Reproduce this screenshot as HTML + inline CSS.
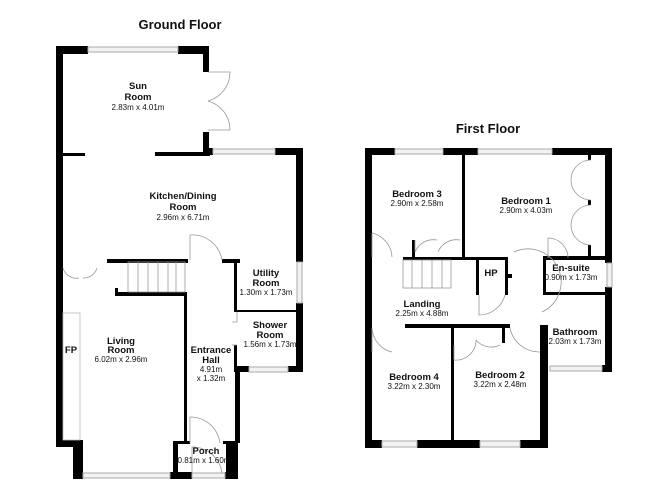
<!DOCTYPE html>
<html><head><style>
html,body{margin:0;padding:0;background:#fff;}
svg{display:block;font-family:"Liberation Sans",Arial,sans-serif;}
.n{font-size:9.5px;font-weight:bold;text-anchor:middle;fill:#111;}
.d{font-size:8px;text-anchor:middle;fill:#111;}
.t{font-size:13px;font-weight:bold;text-anchor:middle;fill:#111;}
.w{fill:#f2f2f2;stroke:#aaa;stroke-width:1;}
.a{fill:none;stroke:#999;stroke-width:0.8;}
</style></head><body>
<svg width="668" height="486" viewBox="0 0 668 486">
<text class="t" x="180" y="29">Ground Floor</text>
<text class="t" x="488" y="133">First Floor</text>
<g fill="#000">
<rect x="56" y="46" width="32" height="8"/>
<rect x="178" y="46" width="31" height="8"/>
<rect x="203" y="46" width="6" height="26"/>
<rect x="203" y="132" width="6" height="23"/>
<rect x="56" y="46" width="7" height="401"/>
<rect x="56" y="440" width="27" height="7"/>
<rect x="73" y="440" width="10" height="39"/>
<rect x="73" y="472" width="10" height="7"/>
<rect x="170" y="472" width="8" height="7"/>
<rect x="63" y="153" width="22" height="3"/>
<rect x="155" y="152" width="55" height="4"/>
<rect x="209" y="148" width="4" height="7"/>
<rect x="275" y="148" width="28" height="7"/>
<rect x="296" y="148" width="7" height="114"/>
<rect x="296" y="303" width="7" height="69"/>
<rect x="237" y="366" width="12" height="6"/>
<rect x="288" y="366" width="15" height="6"/>
<rect x="107" y="259" width="81" height="4"/>
<rect x="222" y="259" width="18" height="4"/>
<rect x="234" y="259" width="3" height="53"/>
<rect x="237" y="310" width="60" height="2"/>
<rect x="234" y="345" width="3" height="27"/>
<rect x="235" y="366" width="5" height="77"/>
<rect x="115" y="288" width="3" height="8"/>
<rect x="115" y="292" width="72" height="4"/>
<rect x="184" y="292" width="3" height="151"/>
<rect x="173" y="441" width="17" height="3"/>
<rect x="223" y="441" width="15" height="3"/>
<rect x="173" y="441" width="5" height="38"/>
<rect x="226" y="441" width="12" height="38"/>
<rect x="173" y="472" width="19" height="7"/>
<rect x="225" y="472" width="13" height="7"/>
<rect x="365" y="148" width="30" height="7"/>
<rect x="443" y="148" width="35" height="7"/>
<rect x="552" y="148" width="60" height="7"/>
<rect x="365" y="148" width="7" height="300"/>
<rect x="605" y="148" width="7" height="115"/>
<rect x="605" y="287" width="7" height="85"/>
<rect x="602" y="365" width="10" height="7"/>
<rect x="365" y="440" width="17" height="8"/>
<rect x="417" y="440" width="63" height="8"/>
<rect x="520" y="440" width="28" height="8"/>
<rect x="540" y="325" width="8" height="123"/>
<rect x="543" y="325" width="5" height="47"/>
<rect x="462" y="155" width="3" height="103"/>
<rect x="403" y="257" width="105" height="3"/>
<rect x="412" y="240" width="3" height="18"/>
<rect x="476" y="258" width="3" height="37"/>
<rect x="505" y="258" width="3" height="37"/>
<rect x="508" y="274" width="4" height="4"/>
<rect x="543" y="256" width="69" height="4"/>
<rect x="543" y="256" width="3" height="39"/>
<rect x="543" y="292" width="62" height="3"/>
<rect x="588" y="155" width="3" height="5"/>
<rect x="588" y="200" width="3" height="5"/>
<rect x="588" y="245" width="3" height="12"/>
<rect x="405" y="324" width="105" height="4"/>
<rect x="451" y="324" width="3" height="116"/>
<rect x="502" y="327" width="3" height="16"/>
</g>
<g class="w">
<rect x="88" y="47" width="90" height="5"/>
<rect x="213" y="149" width="62" height="5"/>
<rect x="297" y="262" width="5" height="41"/>
<rect x="249" y="367" width="39" height="5"/>
<rect x="83" y="473" width="87" height="5"/>
<rect x="192" y="473" width="33" height="5"/>
<rect x="395" y="149" width="48" height="5"/>
<rect x="478" y="149" width="74" height="5"/>
<rect x="607" y="263" width="5" height="24"/>
<rect x="550" y="366" width="52" height="5"/>
<rect x="382" y="441" width="35" height="6"/>
<rect x="480" y="441" width="40" height="6"/>
</g>
<rect x="63" y="313" width="17" height="127" fill="none" stroke="#bbb" stroke-width="0.8"/>
<g class="a">
<path d="M208 72 h22 a30 30 0 0 1 -22 29 M208 130 h22 a30 30 0 0 0 -22 -29"/>
<path d="M190 260 v-25 a30 30 0 0 1 32 25"/>
<path d="M63 268 a14 14 0 0 0 16 10 M97 268 a14 14 0 0 1 -14 10"/>
<path d="M190 443 v-26 a30 30 0 0 1 30 26 M192 473 v-26 a30 30 0 0 1 30 26"/>
<rect x="128" y="262" width="57" height="30"/>
<path d="M138 262v30M148 262v30M158 262v30M168 262v30M176 262v30"/>
<path d="M237 312 v10 h-5 M237 345 h-5"/>
<path d="M372 233 a26 26 0 0 1 20 24 M372 233 v24"/>
<path d="M415 240 v12 a20 20 0 0 1 22 -12 M460 240 a20 20 0 0 0 -22 12"/>
<rect x="403" y="260" width="48" height="28"/>
<path d="M412 260v28M422 260v28M432 260v28M442 260v28"/>
<path d="M479 295 v20 a27 27 0 0 0 26 -20"/>
<path d="M514 252 a30 30 0 0 1 28 60"/>
<path d="M548 258 v-20 a20 20 0 0 1 20 20"/>
<path d="M591 160 a20 20 0 0 0 -20 20 a20 20 0 0 0 20 20 M591 205 a20 20 0 0 0 -20 20 a20 20 0 0 0 20 20"/>
<path d="M372 328 a26 26 0 0 0 20 24 M372 328 v24"/>
<path d="M454 345 v15 a20 20 0 0 0 22 -20 M500 345 a20 20 0 0 1 -24 -5"/>
<path d="M510 328 a30 30 0 0 0 30 24"/>
</g>
<text class="n" x="138" y="89">Sun</text>
<text class="n" x="138" y="100">Room</text>
<text class="d" x="138" y="110">2.83m x 4.01m</text>
<text class="n" x="183" y="199">Kitchen/Dining</text>
<text class="n" x="183" y="210">Room</text>
<text class="d" x="183" y="220">2.96m x 6.71m</text>
<text class="n" x="266" y="276">Utility</text>
<text class="n" x="266" y="286">Room</text>
<text class="d" x="266" y="295">1.30m x 1.73m</text>
<text class="n" x="270" y="328">Shower</text>
<text class="n" x="270" y="338">Room</text>
<text class="d" x="270" y="347">1.56m x 1.73m</text>
<text class="n" x="121" y="344">Living</text>
<text class="n" x="121" y="353">Room</text>
<text class="d" x="121" y="362">6.02m x 2.96m</text>
<text class="n" x="71" y="353">FP</text>
<text class="n" x="211" y="353">Entrance</text>
<text class="n" x="211" y="363">Hall</text>
<text class="d" x="211" y="372">4.91m</text>
<text class="d" x="211" y="381">x 1.32m</text>
<text class="n" x="206" y="454">Porch</text>
<text class="d" x="204" y="463">0.81m x 1.60m</text>
<text class="n" x="417" y="197">Bedroom 3</text>
<text class="d" x="417" y="206">2.90m x 2.58m</text>
<text class="n" x="526" y="204">Bedroom 1</text>
<text class="d" x="526" y="213">2.90m x 4.03m</text>
<text class="n" x="571" y="271">En-suite</text>
<text class="d" x="571" y="280">0.90m x 1.73m</text>
<text class="n" x="491" y="276">HP</text>
<text class="n" x="422" y="307">Landing</text>
<text class="d" x="422" y="316">2.25m x 4.88m</text>
<text class="n" x="575" y="335">Bathroom</text>
<text class="d" x="575" y="344">2.03m x 1.73m</text>
<text class="n" x="414" y="380">Bedroom 4</text>
<text class="d" x="414" y="389">3.22m x 2.30m</text>
<text class="n" x="500" y="378">Bedroom 2</text>
<text class="d" x="500" y="387">3.22m x 2.48m</text>
</svg>
</body></html>
